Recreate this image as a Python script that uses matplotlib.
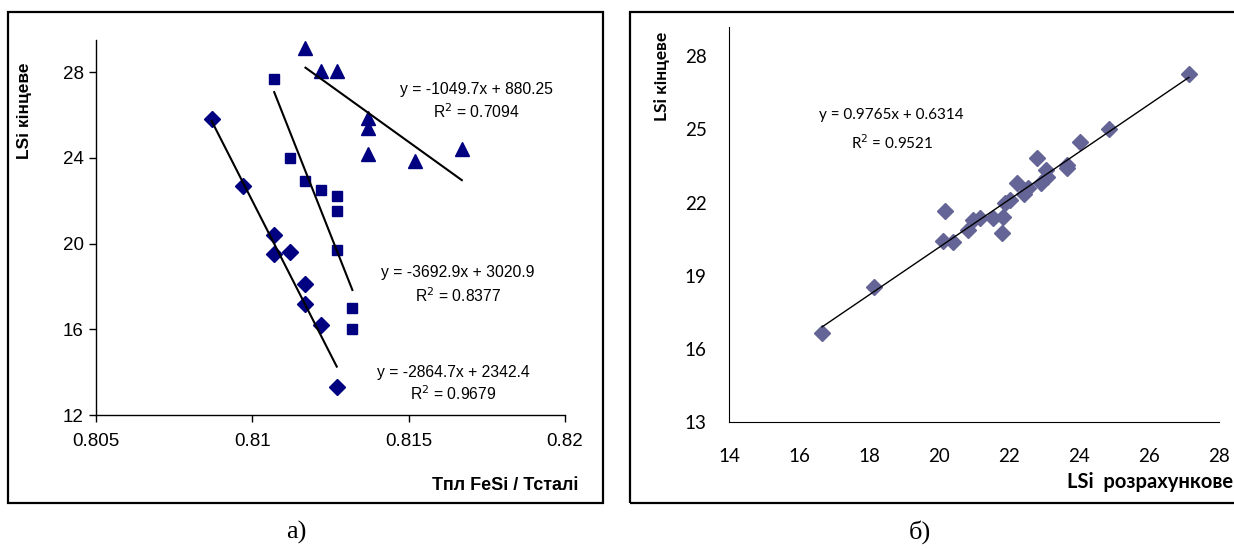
import matplotlib
matplotlib.use("Agg")
import matplotlib.pyplot as plt
import numpy as np
from matplotlib.patches import Rectangle

# panel a): melting temperature ratio vs final LSi
diam_x = [0.8087, 0.8097, 0.8107, 0.8107, 0.8112, 0.8117, 0.8117, 0.8122, 0.8127]
diam_y = [25.8, 22.7, 20.4, 19.5, 19.6, 18.1, 17.2, 16.2, 13.3]
sq_x = [0.8107, 0.8112, 0.8117, 0.8122, 0.8127, 0.8127, 0.8127, 0.8132, 0.8132]
sq_y = [27.7, 24.0, 22.9, 22.5, 22.2, 21.5, 19.7, 17.0, 16.0]
tri_x = [0.8117, 0.8122, 0.8127, 0.8137, 0.8137, 0.8137, 0.8152, 0.8167]
tri_y = [29.15, 28.05, 28.05, 25.85, 25.4, 24.2, 23.85, 24.4]

# trend line coefficients (slope, intercept) as printed on the chart
fit_diam = (-2864.7, 2342.4)
fit_sq = (-3692.9, 3020.9)
fit_tri = (-1049.7, 880.25)

# panel б): calculated vs final LSi
calc_x = [16.66, 18.14, 20.17, 20.11, 20.4, 20.83, 20.97, 21.17, 21.54, 21.8,
          21.83, 21.89, 22.03, 22.23, 22.43, 22.54, 22.8, 22.9, 23.06, 23.08,
          23.66, 23.66, 24.03, 24.86, 27.14]
final_y = [16.65, 18.53, 21.65, 20.42, 20.38, 20.87, 21.28, 21.36, 21.36, 20.75,
           21.4, 22.0, 22.1, 22.8, 22.34, 22.59, 23.82, 22.8, 23.33, 23.04,
           23.53, 23.41, 24.48, 25.0, 27.26]
fit_b = (0.9765, 0.6314)

W, H = 1234, 550
fig = plt.figure(figsize=(W / 100, H / 100), dpi=100)

arial = "Liberation Sans"
calibri = "Lato"
navy = "#000080"
slate = "#646497"


def fx(px):
    return px / W


def fy(py):
    return 1 - py / H


# outer frames
fig.patches.append(Rectangle((fx(8), fy(503)), fx(595), (503 - 12) / H,
                             transform=fig.transFigure, fill=False, lw=1.6, ec="black"))
fig.patches.append(Rectangle((fx(630), fy(503)), fx(620), (503 - 12) / H,
                             transform=fig.transFigure, fill=False, lw=1.6, ec="black"))

# ---- panel a)
ax1 = fig.add_axes([fx(96), fy(415), fx(565 - 96), (415 - 40) / H])
ax1.plot(diam_x, diam_y, "D", color=navy, ms=8.5, ls="none")
ax1.plot(sq_x, sq_y, "s", color=navy, ms=7.5, ls="none")
ax1.plot(tri_x, tri_y, "^", color=navy, ms=10, ls="none")
for xs, (k, b) in [(diam_x, fit_diam), (sq_x, fit_sq), (tri_x, fit_tri)]:
    xx = np.array([min(xs), max(xs)])
    ax1.plot(xx, k * xx + b, color="black", lw=1.5)

ax1.set_xlim(0.805, 0.82)
ax1.set_ylim(12, 29.5)
ax1.set_xticks([0.805, 0.81, 0.815, 0.82])
ax1.set_xticklabels(["0.805", "0.81", "0.815", "0.82"])
ax1.set_yticks([12, 16, 20, 24, 28])
for s in ["top", "right"]:
    ax1.spines[s].set_visible(False)
for s in ["left", "bottom"]:
    ax1.spines[s].set_linewidth(1.0)
ax1.tick_params(direction="out", length=5, width=1, labelsize=13.5, pad=4)
ax1.tick_params(axis="x", pad=8)
for lab in ax1.get_xticklabels() + ax1.get_yticklabels():
    lab.set_family(arial)

eq_kw = dict(ha="center", va="center", fontsize=11.3, family=arial)
fig.text(fx(476), fy(90), "y = -1049.7x + 880.25", **eq_kw)
fig.text(fx(476), fy(112), "R$^2$ = 0.7094", **eq_kw)
fig.text(fx(458), fy(272), "y = -3692.9x + 3020.9", **eq_kw)
fig.text(fx(458), fy(296), "R$^2$ = 0.8377", **eq_kw)
fig.text(fx(453), fy(372), "y = -2864.7x + 2342.4", **eq_kw)
fig.text(fx(453), fy(394), "R$^2$ = 0.9679", **eq_kw)

fig.text(fx(25), fy(62), "LSi кінцеве", rotation=90, ha="center", va="top",
         fontsize=12.5, fontweight="bold", family=arial)
fig.text(fx(578), fy(486), "Тпл FeSi / Тсталі", ha="right", va="center",
         fontsize=13, fontweight="bold", family=arial)

# ---- panel б)
ax2 = fig.add_axes([fx(729), fy(422), fx(1219 - 729), (422 - 27) / H])
ax2.plot(calc_x, final_y, "D", color=slate, ms=8, ls="none")
xx = np.array([min(calc_x), max(calc_x)])
ax2.plot(xx, fit_b[0] * xx + fit_b[1], color="black", lw=1.0)

ax2.set_xlim(14, 28)
ax2.set_ylim(13, 29.2)
ax2.set_xticks([14, 16, 18, 20, 22, 24, 26, 28])
ax2.set_yticks([13, 16, 19, 22, 25, 28])
for s in ["top", "right"]:
    ax2.spines[s].set_visible(False)
ax2.tick_params(length=0, labelsize=13.5)
ax2.tick_params(axis="x", pad=19)
ax2.tick_params(axis="y", pad=16)
for lab in ax2.get_xticklabels() + ax2.get_yticklabels():
    lab.set_family(calibri)

fig.text(fx(891), fy(115), "y = 0.9765x + 0.6314", ha="center", va="center",
         fontsize=11, family=calibri)
fig.text(fx(892), fy(143), "R$^2$ = 0.9521", ha="center", va="center",
         fontsize=11, family=calibri)

fig.text(fx(662), fy(32), "LSi кінцеве", rotation=90, ha="center", va="top",
         fontsize=12.5, fontweight="bold", family=calibri)
fig.text(fx(1233), fy(482), "LSi  розрахункове", ha="right", va="center",
         fontsize=14.5, fontweight="bold", family=calibri)

# panel captions
fig.text(fx(296), fy(532), "а)", ha="center", va="center", fontsize=19,
         family="Liberation Serif")
fig.text(fx(920), fy(532), "б)", ha="center", va="center", fontsize=19,
         family="Liberation Serif")

fig.savefig("out.png", dpi=100)
